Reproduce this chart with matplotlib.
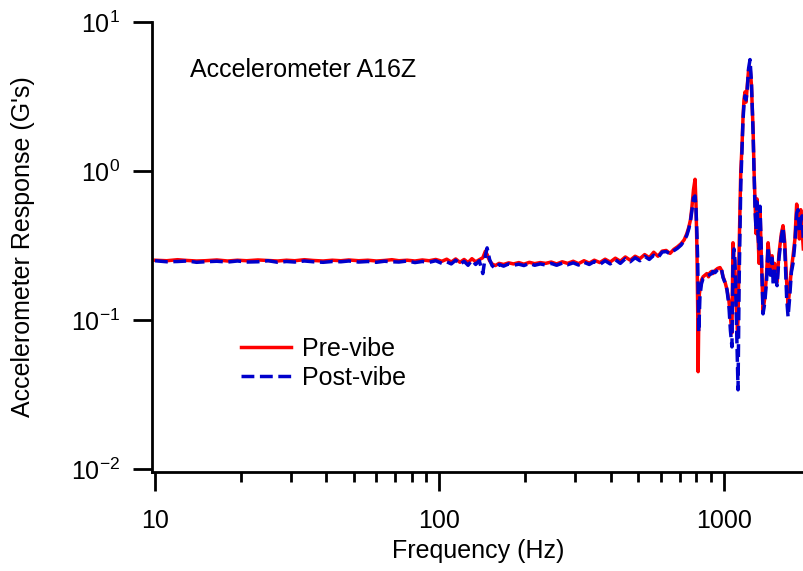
import matplotlib
matplotlib.use("Agg")
import matplotlib.pyplot as plt
from matplotlib.ticker import LogLocator, NullLocator, NullFormatter

plt.rcParams['font.family'] = ['Liberation Sans', 'DejaVu Sans']
plt.rcParams['mathtext.fontset'] = 'custom'
plt.rcParams['mathtext.rm'] = 'Liberation Sans'
plt.rcParams['mathtext.default'] = 'regular'
plt.rcParams['axes.unicode_minus'] = False

# frequency (Hz) and response (G's)
freq = [10, 11, 12, 13, 14, 15, 16.5, 18, 19.5, 21, 23, 25, 27, 29, 31, 33.5, 36, 39,
        42, 45, 48, 52, 56, 60, 64, 68, 72, 77, 82, 87, 92, 97, 102, 106, 110, 114,
        118, 122, 126, 130, 134, 138, 142, 145, 147, 150, 153, 157, 162, 168, 175,
        182, 190, 198, 207, 216, 226, 236, 247, 258, 270, 282, 295, 308, 322, 336,
        350, 366, 382, 398, 415, 432, 450, 468, 487, 506, 526, 546, 566, 586, 606,
        626, 646, 666, 686, 706, 724, 740, 752, 762, 771, 781, 791, 797, 803, 808,
        811, 815, 819, 823, 833, 844, 857, 870, 882, 893, 905, 914, 930, 950, 968,
        980, 992, 1008, 1024, 1040, 1053, 1066, 1070, 1075, 1084, 1093, 1105, 1115,
        1120, 1130, 1145, 1157, 1166, 1175, 1185, 1195, 1205, 1220, 1234, 1248,
        1265, 1275, 1285, 1296, 1306, 1317, 1328, 1338, 1350, 1371, 1390, 1410,
        1428, 1440, 1455, 1475, 1490, 1505, 1536, 1560, 1590, 1612, 1635, 1660,
        1679, 1700, 1725, 1748, 1775, 1800, 1820, 1840, 1860, 1880, 1900]

pre_vibe = [.252, .250, .254, .251, .249, .250, .253, .249, .252, .250, .253, .251,
            .249, .252, .250, .254, .251, .249, .252, .250, .253, .250, .252, .249,
            .251, .254, .250, .252, .249, .253, .250, .255, .248, .256, .245, .257,
            .244, .255, .243, .258, .246, .254, .262, .290, .275, .250, .238, .232,
            .240, .236, .242, .238, .243, .237, .244, .239, .243, .240, .245, .238,
            .246, .240, .248, .239, .250, .241, .252, .243, .256, .245, .260, .248,
            .265, .252, .268, .258, .275, .262, .285, .268, .290, .293, .280, .298,
            .310, .325, .345, .380, .420, .470, .570, .750, .880, .600, .300, .120,
            .045, .100, .150, .160, .185, .195, .200, .205, .195, .208, .212, .205,
            .215, .222, .225, .215, .195, .180, .160, .135, .105, .082, .150, .330,
            .250, .210, .120, .086, .100, .300, 1.0, 1.5, 2.3, 3.0, 3.4, 2.9, 3.6,
            4.8, 5.0, 3.8, 1.9, 1.0, .62, .38, .65, .36, .24, .55, .30, .115, .14,
            .20, .33, .28, .22, .27, .20, .24, .18, .28, .38, .43, .33, .18, .125,
            .16, .22, .27, .35, .60, .52, .35, .55, .40, .30]

post_vibe = [.250, .246, .247, .249, .244, .246, .248, .245, .249, .245, .246, .250,
             .244, .247, .245, .249, .246, .244, .247, .246, .249, .245, .247, .244,
             .248, .246, .245, .249, .243, .247, .244, .250, .240, .246, .238, .252,
             .236, .248, .233, .252, .236, .250, .205, .270, .305, .255, .232, .222,
             .236, .230, .238, .233, .237, .232, .240, .233, .238, .234, .240, .233,
             .241, .235, .242, .234, .244, .236, .247, .236, .250, .238, .254, .240,
             .258, .246, .262, .250, .268, .255, .272, .262, .286, .288, .278, .292,
             .303, .318, .340, .370, .410, .460, .540, .660, .680, .560, .380, .250,
             .150, .083, .110, .145, .175, .190, .193, .198, .200, .202, .205, .212,
             .208, .218, .222, .220, .193, .178, .160, .125, .085, .066, .120, .250,
             .300, .250, .100, .050, .034, .180, .8, 1.4, 2.2, 2.8, 3.2, 3.0, 3.4,
             4.9, 5.6, 4.0, 1.8, 1.0, .55, .40, .62, .37, .30, .58, .33, .11, .13,
             .18, .31, .25, .20, .26, .17, .22, .17, .26, .36, .42, .30, .14, .105,
             .14, .21, .24, .33, .52, .55, .40, .46, .50, .34]

fig = plt.figure(figsize=(8.04, 5.71), dpi=100)
ax = fig.add_axes([0.189, 0.1734, 0.811, 0.788])

ax.plot(freq, pre_vibe, color='#ff0000', lw=2.5, label='Pre-vibe')
ax.plot(freq, post_vibe, color='#0000cc', lw=2.5, linestyle='--', label='Post-vibe')

ax.set_xscale('log')
ax.set_yscale('log')
ax.set_xlim(9.76, 1910)
ax.set_ylim(10 ** -2.02, 10)

ax.yaxis.set_major_locator(LogLocator(base=10, numticks=10))
ax.yaxis.set_minor_locator(NullLocator())
ax.xaxis.set_minor_locator(LogLocator(base=10, subs=range(2, 10), numticks=20))
ax.xaxis.set_minor_formatter(NullFormatter())
ax.set_xticks([10, 100, 1000])
ax.set_xticklabels(['10', '100', '1000'])

for s in ['top', 'right']:
    ax.spines[s].set_visible(False)
for s in ['left', 'bottom']:
    ax.spines[s].set_linewidth(2)

ax.tick_params(which='major', direction='out', length=14, width=2, labelsize=18, pad=9)
ax.tick_params(axis='x', which='major', pad=13)
ax.tick_params(which='minor', direction='out', length=7, width=2)

ax.set_xlabel('Frequency (Hz)', fontsize=18)
ax.xaxis.set_label_coords(0.5, -0.15)
ax.set_ylabel("Accelerometer Response (G's)", fontsize=18)
ax.yaxis.set_label_coords(-0.18, 0.5)

ax.text(0.058, 0.893, 'Accelerometer A16Z', transform=ax.transAxes,
        fontsize=18, ha='left', va='center')

ax.legend(loc='upper left', bbox_to_anchor=(0.1365, 0.30), frameon=False,
          fontsize=18, borderpad=0, borderaxespad=0, handlelength=2.0,
          handletextpad=0.45, labelspacing=0.2)

fig.savefig('out.png', dpi=100)
